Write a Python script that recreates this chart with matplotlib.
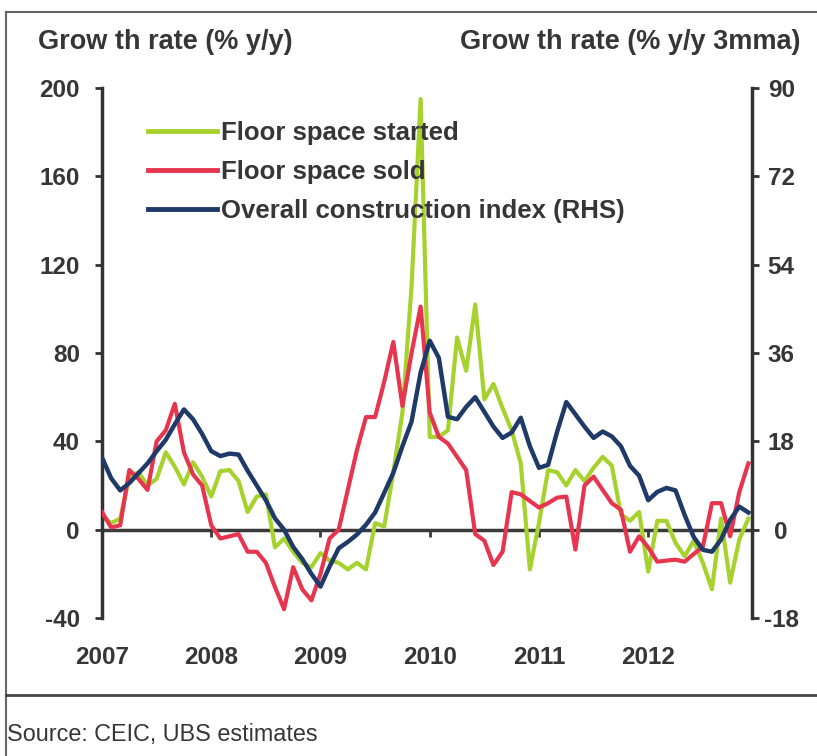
import matplotlib
matplotlib.use("Agg")
import matplotlib.pyplot as plt
from matplotlib.lines import Line2D

# monthly data, Jan 2007 - Dec 2012
years = ["2007", "2008", "2009", "2010", "2011", "2012"]

floor_started = [6, 3, 5, 24, 26, 20, 23, 35, 28.5, 20.5, 30.5, 24,
                 15, 26.5, 27, 22, 8, 15, 16, -8, -4, -10, -15, -17,
                 -10.6, -14, -15, -18, -15, -18, 3, 1.4, 26, 53, 110, 195,
                 42, 42, 45, 87, 72, 102, 59, 66, 55, 45, 30, -18,
                 3, 27, 26, 20, 27, 22, 28, 33, 29, 7, 4, 8,
                 -19, 4, 4, -6, -12, -5, -15, -27, 5, -24, -4.5, 5]

floor_sold = [8, 1, 2, 27, 23, 18, 40, 45, 57, 35, 25, 20,
              2, -4, -3, -2, -10, -10, -15, -26, -36, -17, -27, -32,
              -20, -4, 0, 18, 36, 51, 51, 67, 85, 56, 80, 101,
              53, 42, 39, 33, 27, -2, -5, -16, -10, 17, 16, 13,
              10, 12, 14.5, 15, -9, 20, 24, 18, 12, 9, -10, -3,
              -8, -14.5, -14, -13.6, -14.5, -11, -7.7, 12, 12, -3, 17, 30]

construction = [14.7, 10.5, 8, 9.5, 11.5, 13.5, 16, 18.3, 21.5, 24.5, 22.5, 19.5,
                16, 15, 15.5, 15.3, 12, 9, 6, 2.3, 0, -3.5, -6, -9,
                -11.6, -7.5, -3.8, -2.5, -1, 1, 3.5, 7.5, 11.6, 17, 22, 32,
                38.5, 35, 23, 22.5, 25, 27, 24, 21, 18.7, 19.8, 22.8, 17,
                12.6, 13.2, 20, 26, 23.5, 21, 18.7, 20, 19, 17, 13, 11,
                6, 7.7, 8.5, 8, 3, -1.5, -4.1, -4.5, -2, 2, 4.7, 3.5]

months = list(range(len(floor_sold)))
year_ticks = [12 * i for i in range(len(years))]

txt = "#363636"
plt.rcParams["font.family"] = ["Liberation Sans", "DejaVu Sans"]
plt.rcParams["axes.unicode_minus"] = False

fig = plt.figure(figsize=(8.17, 7.56), dpi=100)
ax = fig.add_axes([102 / 817, 1 - 618 / 756, 650 / 817, 530 / 756])
ax2 = ax.twinx()

l1, = ax.plot(months, floor_started, color="#a6d22e", lw=3, label="Floor space started", zorder=2)
l2, = ax.plot(months, floor_sold, color="#e8354f", lw=3, label="Floor space sold", zorder=3)
l3, = ax2.plot(months, construction, color="#1f3a68", lw=3.2, label="Overall construction index (RHS)")

ax.set_xlim(0, 71.4)
ax.set_ylim(-40, 200)
ax2.set_ylim(-18, 90)
ax.set_yticks(range(-40, 201, 40))
ax2.set_yticks(range(-18, 91, 18))

for a in (ax, ax2):
    a.spines["top"].set_visible(False)
    a.spines["bottom"].set_visible(False)
    a.spines["left"].set_color("#333333")
    a.spines["right"].set_color("#333333")
    a.spines["left"].set_linewidth(2.5)
    a.spines["right"].set_linewidth(2.5)
ax.spines["right"].set_visible(False)
ax2.spines["left"].set_visible(False)

ax.tick_params(axis="y", direction="out", length=5, width=2, color="#333333",
               labelsize=17.5, labelcolor=txt, pad=11)
ax2.tick_params(axis="y", direction="out", length=5, width=2, color="#333333",
                labelsize=17.5, labelcolor=txt, pad=16)
for lab in ax2.get_yticklabels():
    lab.set_horizontalalignment("center")

ax.set_xticks(year_ticks)
ax.set_xticklabels(years)
ax.tick_params(axis="x", length=0, labelsize=17.5, labelcolor=txt, pad=20)
for lab in ax.get_xticklabels() + ax.get_yticklabels() + ax2.get_yticklabels():
    lab.set_fontweight("bold")

# zero line with year ticks
zero_pos = (0 - ax.get_ylim()[0]) / (ax.get_ylim()[1] - ax.get_ylim()[0])
sec = ax.secondary_xaxis(zero_pos)
sec.set_xticks(year_ticks)
sec.set_xticklabels([])
sec.spines["bottom"].set_color("#3a3a3a")
sec.spines["bottom"].set_linewidth(2.5)
sec.tick_params(axis="x", direction="out", length=5, width=2, color="#3a3a3a")

leg = ax.legend(handles=[l1, l2, l3], loc="upper left", bbox_to_anchor=(0.07, 0.938),
                frameon=False, fontsize=18.5, handlelength=2.7, handletextpad=0.15,
                labelspacing=0.58, borderpad=0, borderaxespad=0)
for t in leg.get_texts():
    t.set_color(txt)
    t.set_fontweight("bold")
for h in leg.legend_handles:
    h.set_linewidth(3.5)

fig.text(38 / 817, 1 - 42 / 756, "Grow th rate (% y/y)", fontsize=19.5, fontweight="bold",
         color=txt, ha="left", va="center")
fig.text(800 / 817, 1 - 42 / 756, "Grow th rate (% y/y 3mma)", fontsize=19.5, fontweight="bold",
         color=txt, ha="right", va="center")
fig.text(7 / 817, 1 - 734 / 756, "Source: CEIC, UBS estimates", fontsize=16.8,
         color=txt, ha="left", va="center")

# frame lines of the exhibit
fig.add_artist(Line2D([6 / 817, 1], [1 - 12 / 756, 1 - 12 / 756], color="#666666", lw=1.5))
fig.add_artist(Line2D([6 / 817, 6 / 817], [0, 1 - 12 / 756], color="#666666", lw=1.5))
fig.add_artist(Line2D([6 / 817, 1], [1 - 695 / 756, 1 - 695 / 756], color="#444444", lw=2))

fig.savefig("out.png", dpi=100)
